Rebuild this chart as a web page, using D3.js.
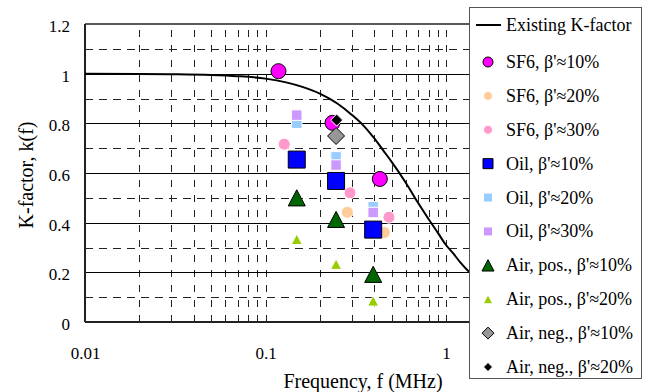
<!DOCTYPE html>
<html><head><meta charset="utf-8">
<script src="https://cdn.jsdelivr.net/npm/d3@7"></script>
<style>
html,body{margin:0;padding:0;background:#fff;}
svg{display:block;}
text{font-family:"Liberation Serif","Times New Roman",serif;fill:#000;}
</style></head>
<body>
<svg id="chart" width="651" height="392"></svg>
<script>
// ---- data ----
const curveF = [0.01,0.02,0.03,0.05,0.07,0.1,0.13,0.16,0.2,0.25,0.3,0.35,0.4,0.45,0.5,0.6,0.7,0.8,0.9,1.0,1.1,1.2,1.35,1.5,2,3,5,10];
const curveK = [1.0,0.999,0.998,0.995,0.99,0.98,0.965,0.947,0.92,0.88,0.835,0.79,0.74,0.69,0.645,0.56,0.48,0.415,0.36,0.31,0.275,0.24,0.2,0.17,0.1,0.048,0.018,0.005];

const sf6_10F = [0.118, 0.235, 0.43],  sf6_10K = [1.01, 0.802, 0.576];
const sf6_20F = [0.284, 0.455],        sf6_20K = [0.442, 0.36];
const sf6_30F = [0.127, 0.294, 0.483], sf6_30K = [0.716, 0.52, 0.422];
const oil_10F = [0.149, 0.246, 0.395], oil_10K = [0.654, 0.568, 0.372];
const oil_20F = [0.149, 0.246, 0.395], oil_20K = [0.80, 0.665, 0.464];
const oil_30F = [0.149, 0.246, 0.395], oil_30K = [0.833, 0.632, 0.441];
const airPos10F = [0.149, 0.246, 0.395], airPos10K = [0.50, 0.413, 0.192];
const airPos20F = [0.149, 0.246, 0.395], airPos20K = [0.333, 0.233, 0.085];
const airNeg10F = [0.246], airNeg10K = [0.749];
const airNeg20F = [0.248], airNeg20K = [0.813];

const seriesNames = ["SF6, β'≈10%","SF6, β'≈20%","SF6, β'≈30%","Oil, β'≈10%","Oil, β'≈20%","Oil, β'≈30%",
  "Air, pos., β'≈10%","Air, pos., β'≈20%","Air, neg., β'≈10%","Air, neg., β'≈20%"];
const curveName = "Existing K-factor";
const xTickValues = [0.01, 0.1, 1];
const xTickLabels = ["0.01", "0.1", "1"];
const yTickValues = [0, 0.2, 0.4, 0.6, 0.8, 1.0, 1.2];
const yTickLabels = ["0", "0.2", "0.4", "0.6", "0.8", "1", "1.2"];
const xTitle = "Frequency, f (MHz)";
const yTitle = "K-factor, k(f)";

// ---- styles ----
const seriesStyle = [
  {shape:"circle",   size:7.5, lsize:5,   fill:"#FF00FF", stroke:"#000"},
  {shape:"circle",   size:6,   lsize:4.5, fill:"#FFCC99", stroke:"#fff"},
  {shape:"circle",   size:6,   lsize:4.5, fill:"#FF99CC", stroke:"#fff"},
  {shape:"square",   size:17,  lsize:10,  fill:"#0000FF", stroke:"#000"},
  {shape:"square",   size:10.5,lsize:9,   fill:"#99CCFF", stroke:"#fff"},
  {shape:"square",   size:10.5,lsize:9,   fill:"#CC99FF", stroke:"#fff"},
  {shape:"triangle", size:17,  lsize:12,  fill:"#006600", stroke:"#000"},
  {shape:"triangle", size:11,  lsize:9.5, fill:"#99CC00", stroke:"#fff"},
  {shape:"diamond",  size:8.5, lsize:6,   fill:"#969696", stroke:"#000"},
  {shape:"diamond",  size:6,   lsize:4.5, fill:"#000000", stroke:"#fff"}
];
const seriesF = [sf6_10F, sf6_20F, sf6_30F, oil_10F, oil_20F, oil_30F, airPos10F, airPos20F, airNeg10F, airNeg20F];
const seriesK = [sf6_10K, sf6_20K, sf6_30K, oil_10K, oil_20K, oil_30K, airPos10K, airPos20K, airNeg10K, airNeg20K];

function markerPath(shape, s){
  if(shape==="circle") return d3.symbol(d3.symbolCircle, Math.PI*s*s)();
  if(shape==="square") return d3.symbol(d3.symbolSquare, s*s)();
  if(shape==="triangle"){ const h=s*0.95; return `M0,${-h/2}L${s/2},${h/2}L${-s/2},${h/2}Z`; }
  return `M0,${-s}L${s},0L0,${s}L${-s},0Z`;
}
const snap = v => Math.round(v) + 0.5;

// ---- layout ----
const svg = d3.select("#chart");
const pLeft = 85, pTop = 24, pBottom = 322, decade = 180.5;
const x = d3.scaleLog().domain([0.01, 10]).range([pLeft, pLeft + 3*decade]);
const y = d3.scaleLinear().domain([0, 1.2]).range([pBottom, pTop]);
const plotRight = x(10);

const g = svg.append("g");

// minor vertical dashed grid
const minorX = [];
[0.01,0.1,1].forEach(d => { for(let m=1;m<=9;m++){ const v=d*m; if(v>0.01 && v<10) minorX.push(v); } });
g.selectAll("line.vg").data(minorX).enter().append("line")
  .attr("x1", d=>snap(x(d))).attr("x2", d=>snap(x(d))).attr("y1", pBottom).attr("y2", pTop)
  .attr("stroke", "#222").attr("stroke-width", 1).attr("stroke-dasharray", "7,8");

// horizontal dashed (odd tenths) and solid (major)
const hMinor = d3.range(1, 12, 2).map(v => v/10);
g.selectAll("line.hm").data(hMinor).enter().append("line")
  .attr("x1", pLeft).attr("x2", plotRight).attr("y1", d=>snap(y(d))).attr("y2", d=>snap(y(d)))
  .attr("stroke", "#222").attr("stroke-width", 1).attr("stroke-dasharray", "8,6");
g.selectAll("line.hM").data(yTickValues.filter(v=>v>0 && v<1.2)).enter().append("line")
  .attr("x1", pLeft).attr("x2", plotRight).attr("y1", d=>snap(y(d))).attr("y2", d=>snap(y(d)))
  .attr("stroke", "#000").attr("stroke-width", 1);

// frame
g.append("line").attr("x1", pLeft).attr("x2", plotRight).attr("y1", y(1.2)).attr("y2", y(1.2)).attr("stroke","#222").attr("stroke-width",1.5);
g.append("line").attr("x1", pLeft).attr("x2", plotRight).attr("y1", y(0)).attr("y2", y(0)).attr("stroke","#222").attr("stroke-width",2);
g.append("line").attr("x1", pLeft).attr("x2", pLeft).attr("y1", y(0)).attr("y2", y(1.2)).attr("stroke","#222").attr("stroke-width",2);

// curve
const line = d3.line().x((d,i)=>x(curveF[i])).y((d,i)=>y(curveK[i])).curve(d3.curveMonotoneX);
g.append("path").attr("d", line(curveF)).attr("fill","none").attr("stroke","#000").attr("stroke-width",2);

// markers
seriesF.forEach((fs, si) => {
  const st = seriesStyle[si];
  g.selectAll(null).data(fs).enter().append("path")
    .attr("d", markerPath(st.shape, st.size))
    .attr("transform", (d,i) => `translate(${x(d)},${y(seriesK[si][i])})`)
    .attr("fill", st.fill).attr("stroke", st.stroke).attr("stroke-width", 1);
});

// axes labels
const xAxis = d3.axisBottom(x).tickValues(xTickValues).tickFormat((d,i)=>xTickLabels[i]).tickSize(0).tickPadding(0);
const xa = svg.append("g").attr("transform", `translate(0,${pBottom})`).call(xAxis);
xa.select(".domain").remove();
xa.selectAll("text").attr("dy", null).attr("y", 37).style("font-size","17px").style("font-family",'"Liberation Serif",serif').attr("fill","#000");

const yAxis = d3.axisLeft(y).tickValues(yTickValues).tickFormat((d,i)=>yTickLabels[i]).tickSize(0).tickPadding(15);
const ya = svg.append("g").attr("transform", `translate(${pLeft},0)`).call(yAxis);
ya.select(".domain").remove();
ya.selectAll("text").attr("dy", "0.62em").attr("y", -3).style("font-size","17px").style("font-family",'"Liberation Serif",serif').attr("fill","#000");

svg.append("text").attr("x", 363).attr("y", 388).attr("text-anchor","middle").style("font-size","20px").text(xTitle);
svg.append("text").attr("transform", "translate(33,175) rotate(-90)").attr("text-anchor","middle").style("font-size","20px").text(yTitle);

// legend
const lg = svg.append("g");
lg.append("rect").attr("x", 469.5).attr("y", 7.5).attr("width", 172).attr("height", 371)
  .attr("fill", "#fff").attr("stroke", "#555").attr("stroke-width", 1);
lg.append("line").attr("x1", 476).attr("x2", 501).attr("y1", 25).attr("y2", 25).attr("stroke","#000").attr("stroke-width",2);
lg.append("text").attr("x", 506).attr("y", 31).style("font-size","18px").text(curveName);
const ly = d3.scaleLinear().domain([0, seriesNames.length-1]).range([62, 367]);
seriesNames.forEach((name, i) => {
  const st = seriesStyle[i];
  lg.append("path").attr("d", markerPath(st.shape, st.lsize))
    .attr("transform", `translate(488,${ly(i)})`)
    .attr("fill", st.fill).attr("stroke", st.stroke).attr("stroke-width", 1);
  lg.append("text").attr("x", 506).attr("y", ly(i)+6).style("font-size","18px").text(name);
});
</script>
</body></html>
